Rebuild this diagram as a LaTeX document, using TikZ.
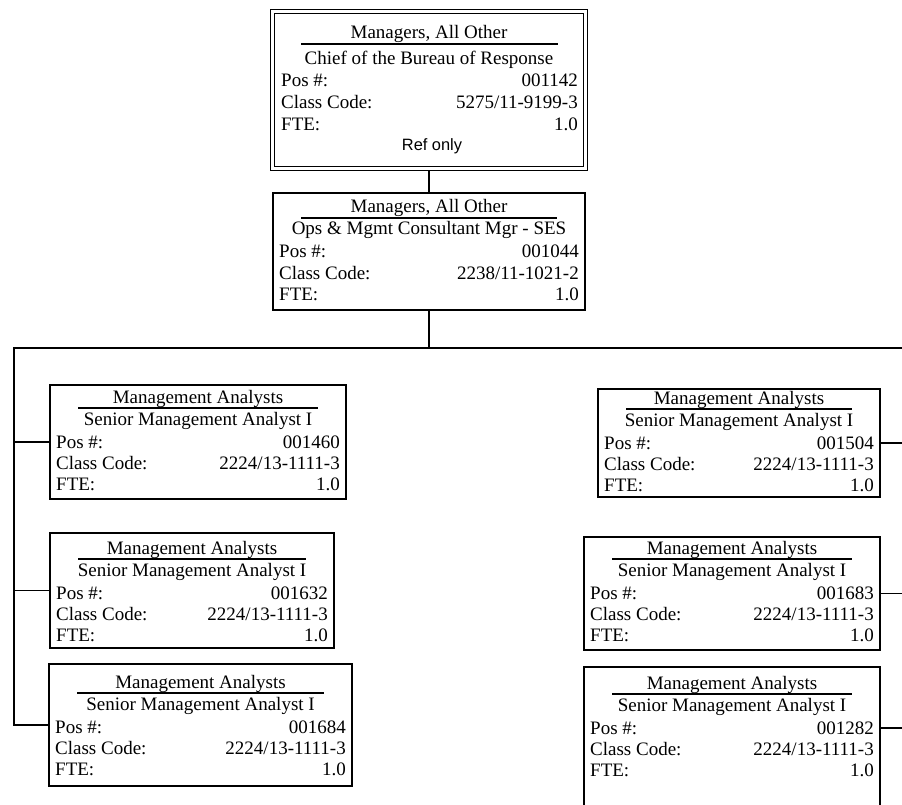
\documentclass[tikz,border=0pt]{standalone}
\usepackage{fontspec}
\setmainfont{Liberation Serif}
\newfontfamily\refsans{Liberation Sans}
\tikzset{
  orgbox/.style={draw, line width=1.3pt, inner sep=0pt, outer sep=0pt},
  topbox/.style={draw, double, double distance=2.6pt, line width=1.1pt, inner sep=0pt, outer sep=0pt},
  txt/.style={inner sep=0pt, font=\fontsize{19}{21}\selectfont},
  reftxt/.style={inner sep=0pt, font=\refsans\fontsize{16.4}{18}\selectfont},
  conn/.style={line width=1.4pt},
  rulel/.style={line width=1.1pt},
}
\newcommand\mkbox[7]{%
  \node[#2, minimum width={(#5-#3)*1pt}, minimum height={(#6-#4)*1pt}, anchor=north west] (#1) at (#3,#4) {};
  \pgfmathsetmacro\bxL{#3}\pgfmathsetmacro\bxR{#5}\pgfmathsetmacro\bxT{#7}\pgfmathsetmacro\bxC{(#3+#5)/2}}
\newcommand\mkrows[6]{%
  \pgfmathsetmacro\yA{\bxT+6}%
  \pgfmathsetmacro\yR{\bxT+11}%
  \pgfmathsetmacro\yB{\bxT+28}%
  \pgfmathsetmacro\yC{\bxT+51}%
  \pgfmathsetmacro\yD{\bxT+72}%
  \pgfmathsetmacro\yE{\bxT+93}%
  \pgfmathsetmacro\xl{\bxL+6}%
  \pgfmathsetmacro\xr{\bxR-6}%
  \pgfmathsetmacro\rl{\bxL+28}%
  \pgfmathsetmacro\rr{\bxR-28}%
  \node[txt, anchor=base] (#1-ti) at (\bxC,\yA) {#2};
  \draw[rulel] (\rl,\yR) -- (\rr,\yR);
  \node[txt, anchor=base] (#1-su) at (\bxC,\yB) {#3};
  \node[txt, anchor=base west] (#1-pl) at (\xl,\yC) {Pos \#:};
  \node[txt, anchor=base east] (#1-pv) at (\xr,\yC) {#4};
  \node[txt, anchor=base west] (#1-cl) at (\xl,\yD) {Class Code:};
  \node[txt, anchor=base east] (#1-cv) at (\xr,\yD) {#5};
  \node[txt, anchor=base west] (#1-fl) at (\xl,\yE) {FTE:};
  \node[txt, anchor=base east] (#1-fv) at (\xr,\yE) {#6};
}
\begin{document}
\begin{tikzpicture}[x=1pt, y=-1pt]
\useasboundingbox (0,0) rectangle (902,805);
\clip (0,0) rectangle (902,805);

% top box (double border)
\mkbox{top}{topbox}{272.5}{11.5}{585.5}{168.5}{32}
\node[txt, anchor=base] (top-ti) at (\bxC,38.5) {Managers, All Other};
\draw[rulel] (301,44) -- (558,44);
\node[txt, anchor=base] (top-su) at (\bxC,64.5) {Chief of the Bureau of Response};
\node[txt, anchor=base west] (top-pl) at (281,87) {Pos \#:};
\node[txt, anchor=base east] (top-pv) at (578,87) {001142};
\node[txt, anchor=base west] (top-cl) at (281,109) {Class Code:};
\node[txt, anchor=base east] (top-cv) at (578,109) {5275/11-9199-3};
\node[txt, anchor=base west] (top-fl) at (281,131) {FTE:};
\node[txt, anchor=base east] (top-fv) at (578,131) {1.0};
\node[reftxt, anchor=base] (top-ref) at (432,151) {Ref only};

\mkbox{mgr}{orgbox}{273}{193}{585}{310}{207}
\mkrows{mgr}{Managers, All Other}{Ops \& Mgmt Consultant Mgr - SES}{001044}{2238/11-1021-2}{1.0}

\mkbox{L1}{orgbox}{50}{385}{346}{499}{397}
\mkrows{L1}{Management Analysts}{Senior Management Analyst I}{001460}{2224/13-1111-3}{1.0}
\mkbox{L2}{orgbox}{50}{533}{334}{648}{548}
\mkrows{L2}{Management Analysts}{Senior Management Analyst I}{001632}{2224/13-1111-3}{1.0}
\mkbox{L3}{orgbox}{49}{664}{352}{786}{682}
\mkrows{L3}{Management Analysts}{Senior Management Analyst I}{001684}{2224/13-1111-3}{1.0}

\mkbox{R1}{orgbox}{598}{389}{880}{497}{398}
\mkrows{R1}{Management Analysts}{Senior Management Analyst I}{001504}{2224/13-1111-3}{1.0}
\mkbox{R2}{orgbox}{584}{537}{880}{650}{548}
\mkrows{R2}{Management Analysts}{Senior Management Analyst I}{001683}{2224/13-1111-3}{1.0}
\mkbox{R3}{orgbox}{584}{667}{880}{830}{683}
\mkrows{R3}{Management Analysts}{Senior Management Analyst I}{001282}{2224/13-1111-3}{1.0}

\coordinate (hl) at (14,348);
\coordinate (hr) at (910,348);
\coordinate (rx) at (910,0);
\coordinate (r3c) at (880,728);
\draw[conn] ([yshift=-2.4pt]top.south) -- (mgr.north);
\draw[conn] (mgr.south) -- (mgr.south |- hl);
\draw[conn] (hr) -- (hl) |- (L3.west);
\draw[conn] (hl |- L1.west) -- (L1.west);
\draw[conn] (hl |- L2.west) -- (L2.west);
\draw[conn] (R1.east) -- (rx |- R1.east);
\draw[conn] (R2.east) -- (rx |- R2.east);
\draw[conn] (R3.east |- r3c) -- (rx |- r3c);
\end{tikzpicture}
\end{document}
